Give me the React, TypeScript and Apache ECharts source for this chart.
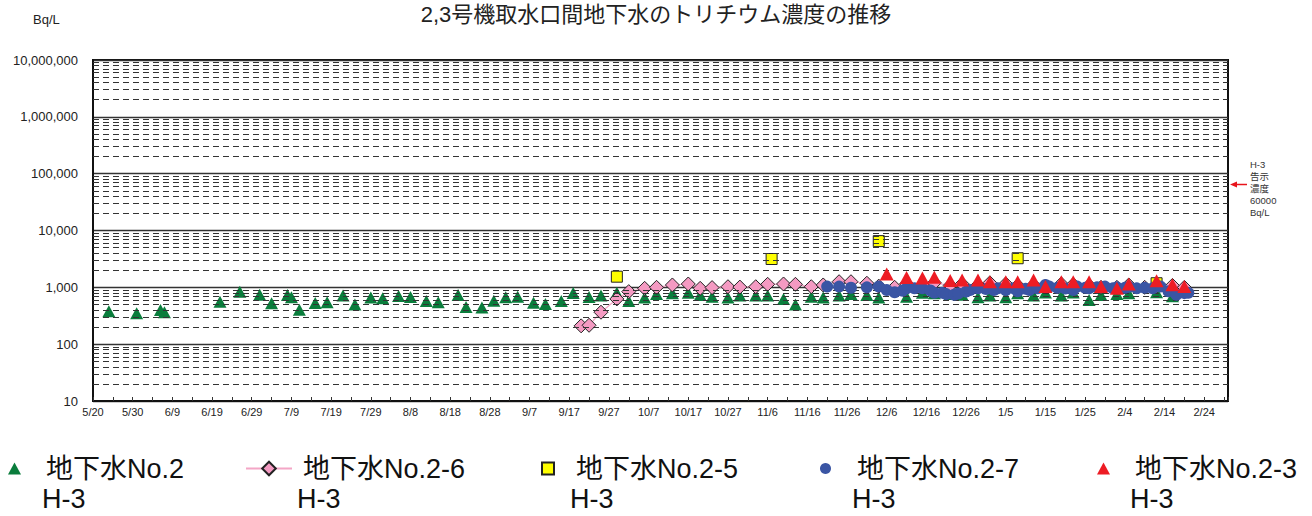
import React, { useEffect, useRef } from "react";
import * as echarts from "echarts";

const FONT = "'Liberation Sans', Arial, 'Noto Sans CJK JP', sans-serif";
const START = Date.UTC(2013, 4, 20);
const DAY = 86400000;
const X_MAX_DAYS = 286;

const TITLE = "2,3号機取水口間地下水のトリチウム濃度の推移";
const UNIT = "Bq/L";
const NOTE = "H-3\n告示\n濃度\n60000\nBq/L";

const SERIES_NAMES = ["地下水No.2", "地下水No.2-6", "地下水No.2-5", "地下水No.2-7", "地下水No.2-3"];
const SUB_LABEL = "H-3";

// 地下水No.2 H-3
const no2Dates = [
  "2013-05-24", "2013-05-31", "2013-06-06", "2013-06-07", "2013-06-21", "2013-06-26", "2013-07-01",
  "2013-07-04", "2013-07-08", "2013-07-09", "2013-07-11", "2013-07-15", "2013-07-18", "2013-07-22",
  "2013-07-25", "2013-07-29", "2013-08-01", "2013-08-05", "2013-08-08", "2013-08-12", "2013-08-15",
  "2013-08-20", "2013-08-22", "2013-08-26", "2013-08-29", "2013-09-01", "2013-09-04", "2013-09-08",
  "2013-09-11", "2013-09-15", "2013-09-18", "2013-09-22", "2013-09-25", "2013-09-29", "2013-10-02",
  "2013-10-06", "2013-10-09", "2013-10-13", "2013-10-17", "2013-10-20", "2013-10-23", "2013-10-27",
  "2013-10-30", "2013-11-03", "2013-11-06", "2013-11-10", "2013-11-13", "2013-11-17", "2013-11-20",
  "2013-11-24", "2013-11-27", "2013-12-01", "2013-12-04", "2013-12-08", "2013-12-11", "2013-12-15",
  "2013-12-18", "2013-12-22", "2013-12-25", "2013-12-29", "2014-01-01", "2014-01-05", "2014-01-08",
  "2014-01-12", "2014-01-15", "2014-01-19", "2014-01-22", "2014-01-26", "2014-01-29", "2014-02-02",
  "2014-02-05", "2014-02-12", "2014-02-16",
];
const no2Values = [
  380, 350, 400, 365, 560, 840, 740,
  525, 730, 670, 405, 530, 545, 715,
  500, 660, 640, 705, 675, 575, 545,
  735, 450, 440, 580, 670, 685, 535,
  510, 575, 795, 675, 715, 800, 575,
  660, 765, 785, 805, 735, 685, 660,
  715, 715, 715, 625, 500, 685, 660,
  715, 765, 735, 660, 950, 685, 805,
  785, 760, 740, 670, 715, 670, 785,
  715, 810, 715, 810, 600, 735, 760,
  785, 820, 700,
];

// 地下水No.2-6 H-3
const no26Dates = [
  "2013-09-20", "2013-09-22", "2013-09-25", "2013-09-29", "2013-10-02", "2013-10-06", "2013-10-09",
  "2013-10-13", "2013-10-17", "2013-10-20", "2013-10-23", "2013-10-27", "2013-10-30", "2013-11-03",
  "2013-11-06", "2013-11-10", "2013-11-13", "2013-11-17", "2013-11-20", "2013-11-24", "2013-11-27",
  "2013-12-01", "2013-12-04", "2013-12-08", "2013-12-11", "2013-12-15", "2013-12-18", "2013-12-22",
  "2013-12-25", "2013-12-29", "2014-01-01", "2014-01-05", "2014-01-08", "2014-01-12", "2014-01-15",
  "2014-01-19", "2014-01-22", "2014-01-26", "2014-01-29", "2014-02-02", "2014-02-05", "2014-02-09",
  "2014-02-12", "2014-02-16", "2014-02-19",
];
const no26Values = [
  210, 215, 365, 625, 840, 960, 1000,
  1100, 1145, 960, 990, 1025, 1010, 1025,
  1130, 1145, 1130, 1025, 1100, 1255, 1255,
  1180, 1050, 1000, 1150, 1100, 1200, 1080,
  1150, 1100, 1200, 1150, 1080, 1100, 1050,
  1150, 1120, 1080, 1000, 1000, 1100, 1000,
  1050, 1080, 1000,
];

// 地下水No.2-5 H-3
const no25Dates = ["2013-09-29", "2013-11-07", "2013-12-04", "2014-01-08", "2014-02-12"];
const no25Values = [1540, 3150, 6500, 3250, 1180];

// 地下水No.2-7 H-3
const no27Dates = [
  "2013-11-21", "2013-11-24", "2013-11-27", "2013-12-01", "2013-12-04", "2013-12-06", "2013-12-08",
  "2013-12-10", "2013-12-11", "2013-12-13", "2013-12-15", "2013-12-17", "2013-12-18", "2013-12-20",
  "2013-12-21", "2013-12-23", "2013-12-24", "2013-12-26", "2013-12-27", "2013-12-29", "2013-12-31",
  "2014-01-02", "2014-01-03", "2014-01-05", "2014-01-07", "2014-01-08", "2014-01-10", "2014-01-11",
  "2014-01-13", "2014-01-15", "2014-01-16", "2014-01-18", "2014-01-20", "2014-01-22", "2014-01-23",
  "2014-01-25", "2014-01-26", "2014-01-28", "2014-01-30", "2014-02-01", "2014-02-02", "2014-02-04",
  "2014-02-05", "2014-02-07", "2014-02-09", "2014-02-11", "2014-02-13", "2014-02-15", "2014-02-17",
  "2014-02-19", "2014-02-20",
];
const no27Values = [
  1030, 1030, 985, 1000, 1030, 900, 820,
  870, 960, 960, 960, 880, 805, 800,
  760, 740, 780, 840, 900, 960, 930,
  900, 960, 900, 960, 850, 940, 900,
  960, 1100, 1030, 980, 950, 900, 1030,
  980, 960, 1000, 1030, 960, 1000, 980,
  1020, 960, 980, 960, 1030, 850, 740,
  790, 800,
];

// 地下水No.2-3 H-3
const no23Dates = [
  "2013-12-06", "2013-12-11", "2013-12-15", "2013-12-18", "2013-12-22", "2013-12-25", "2013-12-29",
  "2014-01-01", "2014-01-05", "2014-01-08", "2014-01-12", "2014-01-15", "2014-01-19", "2014-01-22",
  "2014-01-26", "2014-01-29", "2014-02-02", "2014-02-05", "2014-02-12", "2014-02-16", "2014-02-19",
];
const no23Values = [
  1720, 1490, 1460, 1510, 1320, 1340, 1340,
  1250, 1256, 1256, 1340, 1030, 1256, 1256,
  1256, 1030, 960, 1140, 1300, 1110, 1030,
];

// grid
const DECADES = [10, 100, 1000, 10000, 100000, 1000000];
const MINOR_STEPS = [2, 3, 4, 5, 6, 7, 8, 9];

function toDay(s: string): number {
  const [y, m, d] = s.split("-").map(Number);
  return Math.round((Date.UTC(y, m - 1, d) - START) / DAY);
}
function pairs(dates: string[], values: number[]) {
  return dates.map((d, i) => [toDay(d), values[i]]);
}
function dayLabel(v: number): string {
  const dt = new Date(START + Math.round(v) * DAY);
  return `${dt.getUTCMonth() + 1}/${dt.getUTCDate()}`;
}

export default function App() {
  const ref = useRef<HTMLDivElement>(null);

  useEffect(() => {
    if (!ref.current) return;
    const chart = echarts.init(ref.current, undefined, { renderer: "svg" });

    const minorValues: number[] = [];
    DECADES.forEach((d) => MINOR_STEPS.forEach((m) => minorValues.push(d * m)));

    const legendBase = {
      top: 450,
      selectedMode: false,
      orient: "horizontal",
      textStyle: { fontSize: 27, color: "#111", fontFamily: FONT },
    };

    const legendDefs = [
      { name: SERIES_NAMES[0], left: 3, w: 13, h: 12, pad: 20 },
      { name: SERIES_NAMES[1], left: 240, w: 46, h: 17, pad: 6 },
      { name: SERIES_NAMES[2], left: 536, w: 12, h: 12, pad: 17 },
      { name: SERIES_NAMES[3], left: 815, w: 11, h: 11, pad: 21 },
      { name: SERIES_NAMES[4], left: 1092, w: 13, h: 12, pad: 20 },
    ];
    const subX = [42, 297, 570, 852, 1130];

    const option: any = {
      animation: false,
      textStyle: { fontFamily: FONT },
      grid: {
        left: 93,
        right: 84,
        top: 60,
        bottom: 115,
        show: true,
        borderColor: "#111",
        borderWidth: 2,
      },
      xAxis: {
        type: "value",
        min: 0,
        max: X_MAX_DAYS,
        interval: 10,
        axisLine: { show: true, lineStyle: { color: "#111", width: 2 } },
        axisTick: { show: true, inside: true, length: 4, lineStyle: { color: "#333" } },
        minorTick: { show: true, splitNumber: 2, length: 4, lineStyle: { color: "#333" } },
        splitLine: { show: false },
        axisLabel: {
          fontSize: 11,
          color: "#222",
          margin: 5,
          showMaxLabel: false,
          formatter: (v: number) => dayLabel(v),
        },
      },
      yAxis: {
        type: "log",
        logBase: 10,
        min: 10,
        max: 10000000,
        splitNumber: 6,
        axisLine: { show: true, lineStyle: { color: "#111", width: 2 } },
        axisTick: { show: false },
        splitLine: { show: true, lineStyle: { color: "#333", width: 1.3 } },
        axisLabel: {
          fontSize: 13,
          color: "#222",
          margin: 15,
          formatter: (v: number) => Math.round(v).toLocaleString("en-US"),
        },
      },
      legend: legendDefs.map((l) => ({
        ...legendBase,
        left: l.left,
        data: [l.name],
        itemWidth: l.w,
        itemHeight: l.h,
        textStyle: { ...legendBase.textStyle, padding: [0, 0, 0, l.pad] },
      })),
      graphic: [
        {
          type: "text",
          left: "center",
          top: 3,
          style: { text: TITLE, fontSize: 22, fill: "#222", fontFamily: FONT },
        },
        {
          type: "text",
          x: 33,
          y: 19,
          style: { text: UNIT, fontSize: 13, fill: "#222", fontFamily: FONT, verticalAlign: "middle" },
        },
        {
          type: "text",
          x: 1250,
          y: 158,
          style: { text: NOTE, fontSize: 9.5, lineHeight: 12.2, fill: "#333", fontFamily: FONT },
        },
        {
          type: "line",
          shape: { x1: 1235, y1: 184.5, x2: 1247, y2: 184.5 },
          style: { stroke: "#e8141c", lineWidth: 1.5 },
        },
        {
          type: "polygon",
          shape: { points: [[1230, 184.5], [1237, 181.5], [1237, 187.5]] },
          style: { fill: "#e8141c" },
        },
        ...subX.map((x) => ({
          type: "text",
          x,
          y: 499,
          style: { text: SUB_LABEL, fontSize: 27, fill: "#111", fontFamily: FONT, verticalAlign: "middle" },
        })),
      ],
      series: [
        {
          name: "minor-grid",
          type: "line",
          data: [],
          silent: true,
          z: 1,
          markLine: {
            silent: true,
            symbol: ["none", "none"],
            label: { show: false },
            emphasis: { disabled: true },
            lineStyle: { type: [6, 4], color: "#333", width: 1 },
            data: minorValues.map((v) => ({ yAxis: v })),
          },
        },
        {
          name: SERIES_NAMES[0],
          type: "scatter",
          data: pairs(no2Dates, no2Values),
          symbol: "triangle",
          symbolSize: [13, 12],
          itemStyle: { color: "#0a7d3c", opacity: 1 },
          emphasis: { disabled: true },
          z: 2,
        },
        {
          name: SERIES_NAMES[1],
          type: "line",
          data: pairs(no26Dates, no26Values),
          symbol: "diamond",
          symbolSize: 14,
          lineStyle: { color: "#f4a6c6", width: 1.2 },
          itemStyle: { color: "#f49ac2", borderColor: "#222", borderWidth: 1, opacity: 1 },
          emphasis: { disabled: true },
          z: 3,
        },
        {
          name: SERIES_NAMES[2],
          type: "scatter",
          data: pairs(no25Dates, no25Values),
          symbol: "rect",
          symbolSize: 11,
          itemStyle: { color: "#ffff00", borderColor: "#222", borderWidth: 1, opacity: 1 },
          emphasis: { disabled: true },
          z: 4,
        },
        {
          name: SERIES_NAMES[3],
          type: "scatter",
          data: pairs(no27Dates, no27Values),
          symbol: "circle",
          symbolSize: 12,
          itemStyle: { color: "#3a55a4", opacity: 1 },
          emphasis: { disabled: true },
          z: 5,
        },
        {
          name: SERIES_NAMES[4],
          type: "scatter",
          data: pairs(no23Dates, no23Values),
          symbol: "triangle",
          symbolSize: [14, 13],
          itemStyle: { color: "#ed1c24", opacity: 1 },
          emphasis: { disabled: true },
          z: 6,
        },
      ],
    };

    chart.setOption(option);
    return () => chart.dispose();
  }, []);

  return (
    <div
      ref={ref}
      style={{ position: "fixed", left: 0, top: 0, width: 1312, height: 516, background: "#fff" }}
    />
  );
}
